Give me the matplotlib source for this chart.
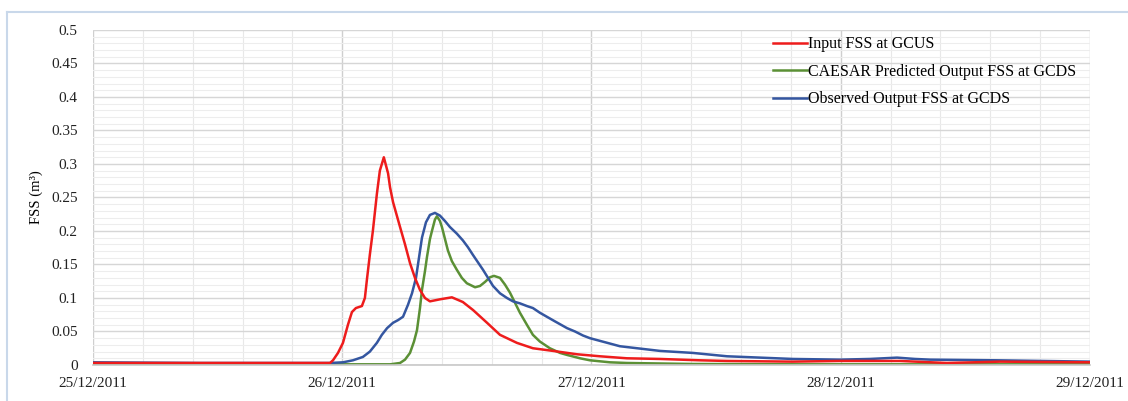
import pandas as pd
import numpy as np
import matplotlib
matplotlib.use('Agg')
import matplotlib.pyplot as plt
import matplotlib.dates as mdates
from matplotlib.ticker import MultipleLocator
from matplotlib.lines import Line2D

plt.rcParams['font.family'] = ['Liberation Serif', 'DejaVu Serif']

start = pd.Timestamp('2011-12-25')

# Input FSS at GCUS (days since 25/12/2011, m3)
red_days = [0, 0.429, 0.951, 0.963, 0.983, 1.003, 1.023, 1.039, 1.055, 1.079, 1.091,
            1.099, 1.111, 1.123, 1.139, 1.151, 1.167, 1.184, 1.192, 1.204, 1.232,
            1.252, 1.272, 1.292, 1.312, 1.332, 1.352, 1.392, 1.440, 1.484, 1.525,
            1.581, 1.633, 1.701, 1.765, 1.846, 1.942, 2.034, 2.142, 2.275, 2.435,
            2.544, 2.808, 2.997, 3.238, 3.426, 3.639, 4.0]
red_fss = [0.003, 0.003, 0.003, 0.007, 0.018, 0.033, 0.06, 0.079, 0.085, 0.088, 0.1,
           0.127, 0.165, 0.2, 0.255, 0.29, 0.31, 0.286, 0.265, 0.243, 0.206,
           0.18, 0.152, 0.13, 0.112, 0.1, 0.095, 0.098, 0.101, 0.094, 0.082,
           0.063, 0.045, 0.033, 0.025, 0.021, 0.016, 0.013, 0.010, 0.009, 0.007,
           0.006, 0.005, 0.006, 0.006, 0.003, 0.005, 0.004]

# CAESAR predicted output FSS at GCDS
green_days = [0, 1.192, 1.232, 1.252, 1.272, 1.288, 1.300, 1.312, 1.320, 1.332, 1.340,
              1.352, 1.360, 1.372, 1.380, 1.392, 1.400, 1.424, 1.440, 1.460, 1.480,
              1.500, 1.533, 1.553, 1.573, 1.593, 1.609, 1.633, 1.653, 1.673, 1.693,
              1.713, 1.741, 1.765, 1.793, 1.833, 1.874, 1.902, 1.954, 1.994, 2.074,
              2.142, 2.407, 2.836, 4.0]
green_fss = [0.001, 0.001, 0.003, 0.008, 0.018, 0.035, 0.052, 0.085, 0.112, 0.14, 0.161,
             0.188, 0.2, 0.217, 0.222, 0.215, 0.206, 0.171, 0.155, 0.142, 0.13,
             0.122, 0.116, 0.118, 0.124, 0.131, 0.133, 0.13, 0.12, 0.108, 0.093,
             0.078, 0.06, 0.045, 0.035, 0.025, 0.018, 0.015, 0.01, 0.007, 0.004,
             0.003, 0.0015, 0.001, 0.001]

# Observed output FSS at GCDS
blue_days = [0, 0.429, 0.951, 1.003, 1.043, 1.083, 1.111, 1.139, 1.159, 1.180, 1.204,
             1.224, 1.244, 1.264, 1.280, 1.296, 1.308, 1.320, 1.336, 1.352, 1.372,
             1.392, 1.412, 1.432, 1.460, 1.484, 1.504, 1.525, 1.545, 1.565, 1.585,
             1.605, 1.633, 1.661, 1.685, 1.713, 1.741, 1.765, 1.793, 1.821, 1.854,
             1.902, 1.934, 1.966, 1.994, 2.034, 2.074, 2.114, 2.183, 2.275, 2.407,
             2.544, 2.676, 2.808, 2.997, 3.117, 3.226, 3.298, 3.358, 3.627, 4.0]
blue_fss = [0.004, 0.003, 0.003, 0.004, 0.007, 0.012, 0.02, 0.033, 0.045, 0.055, 0.063,
            0.067, 0.072, 0.09, 0.107, 0.13, 0.16, 0.19, 0.213, 0.224, 0.227,
            0.223, 0.215, 0.206, 0.196, 0.186, 0.176, 0.164, 0.153, 0.142, 0.13,
            0.118, 0.107, 0.1, 0.095, 0.092, 0.088, 0.085, 0.078, 0.072, 0.065,
            0.055, 0.05, 0.044, 0.04, 0.036, 0.032, 0.028, 0.025, 0.021, 0.018,
            0.013, 0.011, 0.009, 0.008, 0.009, 0.011, 0.009, 0.008, 0.007, 0.005]

def to_dates(days):
    return start + pd.to_timedelta(days, unit='D')

fig = plt.figure(figsize=(11.28, 4.01), dpi=100)
ax = fig.add_axes([0.0824, 0.0898, 0.8839, 0.8354])

lw = 1.8
lg, = ax.plot(to_dates(green_days), green_fss, color='#5b9035', lw=lw,
              solid_joinstyle='round', label='CAESAR Predicted Output FSS at GCDS')
lb, = ax.plot(to_dates(blue_days), blue_fss, color='#3456a0', lw=lw,
              solid_joinstyle='round', label='Observed Output FSS at GCDS')
lr, = ax.plot(to_dates(red_days), red_fss, color='#ee1c1c', lw=lw,
              solid_joinstyle='round', label='Input FSS at GCUS')

ax.set_xlim(start, start + pd.Timedelta(days=4))
ax.set_ylim(0, 0.5)

ax.xaxis.set_major_locator(mdates.DayLocator())
ax.xaxis.set_major_formatter(mdates.DateFormatter('%d/%m/%Y'))
ax.xaxis.set_minor_locator(MultipleLocator(0.2))
ax.yaxis.set_minor_locator(MultipleLocator(0.01))
ax.set_yticks(np.arange(0, 0.501, 0.05))
ax.set_yticklabels(['0', '0.05', '0.1', '0.15', '0.2', '0.25', '0.3', '0.35', '0.4', '0.45', '0.5'])

ax.grid(which='major', axis='x', color='#cfcfcf', lw=1.0)
ax.grid(which='minor', axis='x', color='#e8e8e8', lw=0.8)
ax.grid(which='major', axis='y', color='#d6d6d6', lw=1.0)
ax.grid(which='minor', axis='y', color='#ededed', lw=0.8)
ax.set_axisbelow(True)

for s in ['top', 'right', 'left']:
    ax.spines[s].set_visible(False)
ax.spines['bottom'].set_color('#c8c8c8')
ax.spines['bottom'].set_linewidth(1.2)

ax.tick_params(which='both', length=0, labelsize=11, colors='#222222')
ax.tick_params(axis='y', pad=11)
ax.tick_params(axis='x', pad=9)
ax.set_ylabel('FSS (m³)', fontsize=10.5, labelpad=6)

ax.legend(handles=[lr, lg, lb], loc='upper left', bbox_to_anchor=(0.668, 1.024),
          frameon=False, fontsize=11.5, handlelength=2.1, handletextpad=0.1,
          labelspacing=0.72)

# light blue frame around the chart
fig.add_artist(Line2D([7 / 1128, 7 / 1128], [0, 1 - 12 / 401], color='#c9d8ea', lw=1.5))
fig.add_artist(Line2D([7 / 1128, 1], [1 - 12 / 401, 1 - 12 / 401], color='#c9d8ea', lw=1.5))

fig.savefig('out.png', dpi=100)
